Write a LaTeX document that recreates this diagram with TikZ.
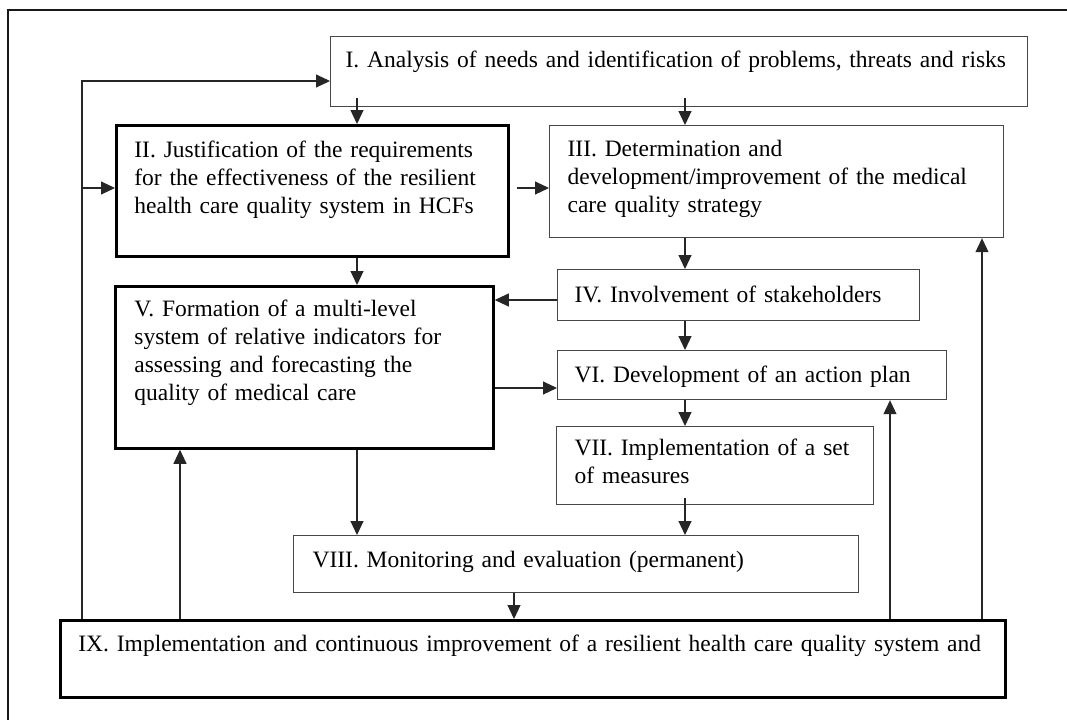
\documentclass[tikz,border=0pt]{standalone}
\usepackage{fontspec}
\setmainfont{Liberation Serif}
\usetikzlibrary{arrows.meta,calc}
\begin{document}
\begin{tikzpicture}[x=0.5pt,y=-0.5pt,
  boxbase/.style={anchor=north west, inner ysep=0pt, align=left, font=\fontsize{11.75pt}{14pt}\selectfont},
  thinbox/.style={boxbase, draw=black!72, line width=0.6pt},
  thickbox/.style={boxbase, draw=black, line width=1.4pt},
  conn/.style={draw=black!85, line width=0.55pt, -{Triangle[length=7pt,width=6.5pt]}},
  outerframe/.style={draw=black!90, line width=0.8pt}]
\useasboundingbox (0,0) rectangle (1067,719);
\fill[white] (0,0) rectangle (1067,719);
\draw[outerframe] (8,730) -- (8,10) -- (1080,10);

% column / row helpers
\coordinate (xA) at (82,0);
\coordinate (xB) at (180,0);
\coordinate (xC) at (357,0);
\coordinate (xD) at (685,0);
\coordinate (xE) at (514,0);
\coordinate (xG) at (890,0);
\coordinate (xH) at (982,0);
\coordinate (yA) at (0,81);
\coordinate (yB) at (0,188);
\coordinate (yC) at (0,300);
\coordinate (yD) at (0,388);

\node[thinbox, inner xsep=7.5pt, text width=333.5pt, text height=15.5pt, text depth=19.5pt] (n1) at (330,36)
  {\mbox{I. Analysis of needs and identification of problems, threats and risks}};
\node[thickbox, inner xsep=9pt, text width=178pt, text height=16pt, text depth=49.5pt] (n2) at (115,124)
  {\mbox{II. Justification of the requirements}\\\mbox{for the effectiveness of the resilient}\\\mbox{health care quality system in HCFs}};
\node[thinbox, inner xsep=9pt, text width=209pt, text height=15.5pt, text depth=40.5pt] (n3) at (549,125)
  {\mbox{III. Determination and}\\\mbox{development/improvement of the medical}\\\mbox{care quality strategy}};
\node[thinbox, inner xsep=8.5pt, text width=164pt, text height=16.5pt, text depth=9pt] (n4) at (557,269)
  {\mbox{IV. Involvement of stakeholders}};
\node[thickbox, inner xsep=9.5pt, text width=170pt, text height=15pt, text depth=66pt] (n5) at (114,285)
  {\mbox{V. Formation of a multi-level}\\\mbox{system of relative indicators for}\\\mbox{assessing and forecasting the}\\\mbox{quality of medical care}};
\node[thinbox, inner xsep=8.5pt, text width=177.5pt, text height=16pt, text depth=8.5pt] (n6) at (557,350)
  {\mbox{VI. Development of an action plan}};
\node[thinbox, inner xsep=9pt, text width=140.5pt, text height=14.5pt, text depth=24.5pt] (n7) at (556,426)
  {\mbox{VII. Implementation of a set}\\\mbox{of measures}};
\node[thinbox, inner xsep=9.5pt, text width=263.5pt, text height=16pt, text depth=12.5pt] (n8) at (293,535)
  {\mbox{VIII. Monitoring and evaluation (permanent)}};
\node[thickbox, inner xsep=9pt, text width=454.5pt, text height=15.5pt, text depth=23pt] (n9) at (59,619)
  {\mbox{IX. Implementation and continuous improvement of a resilient health care quality system and}};

% feedback loops from IX
\draw[conn] (n9.north -| xA) |- (n1.west |- yA);
\draw[conn] (yB -| xA) -- (yB -| n2.west);
\draw[conn] (n9.north -| xB) -- (n5.south -| xB);
\draw[conn] (n9.north -| xG) -- (n6.south -| xG);
\draw[conn] (n9.north -| xH) -- (n3.south -| xH);

% main flow
\draw[conn] ($(n1.south -| xC)+(0,-9)$) -- (n2.north -| xC);
\draw[conn] ($(n1.south -| xD)+(0,-9)$) -- (n3.north -| xD);
\draw[conn] ($(n2.east |- yB)+(7,0)$) -- (n3.west |- yB);
\draw[conn] (n2.south -| xC) -- (n5.north -| xC);
\draw[conn] (n3.south -| xD) -- (n4.north -| xD);
\draw[conn] (n4.west |- yC) -- (n5.east |- yC);
\draw[conn] (n4.south -| xD) -- (n6.north -| xD);
\draw[conn] (n5.east |- yD) -- (n6.west |- yD);
\draw[conn] (n6.south -| xD) -- (n7.north -| xD);
\draw[conn] (n5.south -| xC) -- (n8.north -| xC);
\draw[conn] ($(n7.south -| xD)+(0,-7)$) -- (n8.north -| xD);
\draw[conn] (n8.south -| xE) -- (n9.north -| xE);
\end{tikzpicture}
\end{document}
